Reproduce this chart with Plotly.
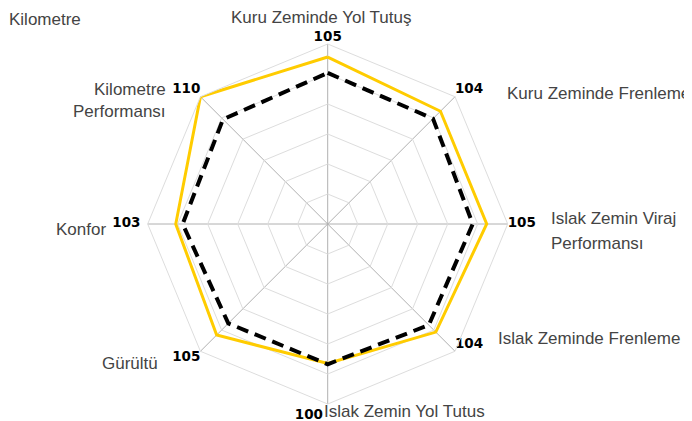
import plotly.graph_objects as go

# page body has an 8px margin; figure fills the rest of the 692x421 window
OFF = 8
W, H = 692 - OFF, 421 - OFF

# categories clockwise from top
categories = [
    "Kuru Zeminde Yol Tutuş",
    "Kuru Zeminde Frenleme",
    "Islak Zemin Viraj Performansı",
    "Islak Zeminde Frenleme",
    "Islak Zemin Yol Tutus",
    "Gürültü",
    "Konfor",
    "Kilometre Performansı",
]
# score labels shown at each axis
scores = [105, 104, 105, 104, 100, 105, 103, 110]
# plotted radii (radial scale 0-120)
yellow_r = [111.3, 106.3, 106.0, 101.9, 93.0, 104.7, 101.3, 120.0]
baseline_r = [100.7, 99.3, 96.7, 95.3, 93.5, 93.7, 96.7, 98.7]
R_MAX = 120
R_STEP = 20

label_font = dict(family="Liberation Sans, Arial, sans-serif", size=17, color="#444444")
value_font = dict(family="DejaVu Sans, Verdana, sans-serif", size=13.5, color="#000000",
                  weight="bold")

fig = go.Figure()

fig.add_trace(go.Scatterpolar(
    r=yellow_r + yellow_r[:1], theta=categories + categories[:1],
    mode="lines", line=dict(color="#FFCC00", width=3),
    hoverinfo="skip", showlegend=False,
))
fig.add_trace(go.Scatterpolar(
    r=baseline_r + baseline_r[:1], theta=categories + categories[:1],
    mode="lines", line=dict(color="#000000", width=4, dash="12px,7px"),
    hoverinfo="skip", showlegend=False,
))
# value labels at the outer ring; invisible markers only pad the text offset
fig.add_trace(go.Scatterpolar(
    r=[R_MAX] * len(categories), theta=categories,
    mode="markers+text", text=[str(s) for s in scores],
    marker=dict(size=[0, 0, 0, 0, 6, 0, 10, 0], opacity=0),
    textposition=["top center", "top right", "middle right", "top right",
                  "bottom left", "bottom left", "middle left", "top left"],
    textfont=value_font, cliponaxis=False,
    hoverinfo="skip", showlegend=False,
))

# page-pixel geometry of the polar area
cx, cy, rad = 327.7 - OFF, 224.0 - OFF, 180.0
fig.update_layout(
    width=W, height=H,
    margin=dict(l=0, r=0, t=0, b=0),
    paper_bgcolor="white", plot_bgcolor="white",
    polar=dict(
        domain=dict(x=[(cx - rad) / W, (cx + rad) / W],
                    y=[1 - (cy + rad) / H, 1 - (cy - rad) / H]),
        bgcolor="white",
        gridshape="linear",
        radialaxis=dict(range=[0, R_MAX], dtick=R_STEP, showticklabels=False,
                        ticks="", showline=False, gridcolor="#dddddd", gridwidth=1),
        angularaxis=dict(direction="clockwise", rotation=90, showticklabels=False,
                         ticks="", showline=True, linecolor="#dddddd", linewidth=1,
                         gridcolor="#b0b0b0", gridwidth=1),
    ),
)

def ann(text, x, y, xanchor, font=label_font):
    fig.add_annotation(text=text, x=(x - OFF) / W, y=1 - (y - OFF) / H,
                       xref="paper", yref="paper",
                       xanchor=xanchor, yanchor="middle", showarrow=False, font=font)

ann("Kilometre", 7, 19, "left")
ann("Kuru Zeminde Yol Tutuş", 321.5, 17, "center")
ann("Kuru Zeminde Frenleme", 505, 93.5, "left")
ann("Islak Zemin Viraj", 549, 218, "left")
ann("Performansı", 549, 243, "left")
ann("Islak Zeminde Frenleme", 496, 338, "left")
ann("Islak Zemin Yol Tutus", 322, 411, "left")
ann("Gürültü", 159.5, 363, "right")
ann("Konfor", 108, 229.5, "right")
ann("Kilometre", 168, 89, "right")
ann("Performansı", 168, 111.5, "right")

fig.write_html("out.html")
